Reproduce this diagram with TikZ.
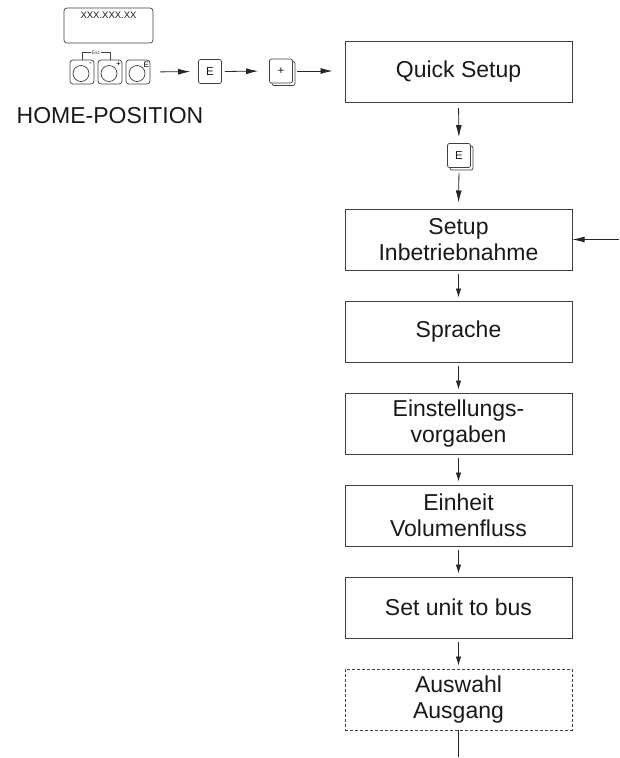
\documentclass[tikz,border=0pt]{standalone}
\usepackage{fontspec}
\setmainfont{Liberation Sans}
\usetikzlibrary{arrows.meta, positioning, shadows}

\begin{document}
\begin{tikzpicture}[x=1pt, y=-1pt,
    box/.style={draw=black!75, line width=1pt, minimum width=227pt, minimum height=61pt, inner sep=0pt, align=center, text=black!90, font=\fontsize{23}{26}\selectfont},
    optbox/.style={box, line width=0.8pt, dash pattern=on 3pt off 2pt},
    key/.style={draw=black!75, line width=0.7pt, rounded corners=2pt, fill=white, minimum width=23pt, minimum height=24pt, inner sep=0pt, text=black!90, font=\fontsize{11.5}{11.5}\selectfont},
    stackkey/.style={key, copy shadow={shadow xshift=2.5pt, shadow yshift=-2.5pt}},
    btn/.style={draw=black!75, line width=0.7pt, rounded corners=3pt, minimum size=24pt, inner sep=0pt},
    flow/.style={-{Latex[length=12pt, width=6pt]}, line width=0.8pt, black!85},
    link/.style={-{Latex[length=9pt, width=5.5pt]}, line width=0.8pt, black!85}
]
\useasboundingbox (0,0) rectangle (619,758);

% Home position: display and keys
\node[draw=black!75, line width=0.7pt, rounded corners=3pt, minimum width=89pt, minimum height=35pt] (disp) at (108.5,25.5) {};
\node[font=\fontsize{9.5}{10}\selectfont, text=black!90, anchor=north, inner sep=0pt] (val) at ([yshift=-4pt]disp.north) {XXX.XXX.XX};
\foreach \i/\s in {1/-,2/+,3/E} {
    \node[btn] (b\i) at ({82+28*(\i-1)},72) {};
    \draw[line width=0.7pt, black!75] ([xshift=-1pt, yshift=-1.5pt]b\i.center) circle (8pt);
    \node[font=\fontsize{8}{8}\selectfont, inner sep=0pt] (s\i) at ([xshift=-4pt, yshift=-5pt]b\i.north east) {\s};
}
\draw[line width=0.5pt, black!75] (b1.north) -- ++(0,-7) coordinate (e1)
    -- node[fill=white, inner sep=1pt, font=\fontsize{5}{5}\selectfont] (esc) {Esc} (e1 -| b2.north) -- (b2.north);
\node[anchor=base, text=black!90, font=\fontsize{23}{26}\selectfont] (home) at (110,123) {HOME-POSITION};

\node[key] (keyE) at (210,71.5) {E};
\node[stackkey] (keyP) at (281,71) {+};

% Main menu
\node[box] (quick) at (458.5,72) {Quick Setup};
\node[stackkey] (keyE2) at (459,155.5) {E};
\node[box] (setup) at (458.5,239.5) {Setup\\Inbetriebnahme};
\node[box, below=30pt of setup] (sprache) {Sprache};
\node[box, below=30pt of sprache] (einst) {Einstellungs-\\vorgaben};
\node[box, below=30pt of einst] (einheit) {Einheit\\Volumenfluss};
\node[box, below=30pt of einheit] (setbus) {Set unit to bus};
\node[optbox, below=30pt of setbus] (auswahl) {Auswahl\\Ausgang};
\coordinate (back) at (619,239.5);
\coordinate (out) at (458.5,757);

% Connectors
\draw[flow, shorten <=10pt, shorten >=8pt] (b3.east) -- (keyE.west);
\draw[flow, shorten <=3pt, shorten >=11pt] (keyE.east) -- (keyP.west);
\draw[flow, shorten <=4pt, shorten >=12pt] (keyP.east) -- (keyP.east -| quick.west);
\draw[flow, shorten <=5pt, shorten >=6pt] (quick.south) -- (keyE2.north);
\draw[flow, shorten <=5pt, shorten >=6pt] (keyE2.south) -- (setup.north);
\draw[flow] (back) -- (setup.east);
\foreach \a/\b in {setup/sprache, sprache/einst, einst/einheit, einheit/setbus, setbus/auswahl} {
    \draw[link, shorten <=3pt, shorten >=3pt] (\a.south) -- (\b.north);
}
\draw[line width=0.8pt, black!85] (auswahl.south) -- (out);

\end{tikzpicture}
\end{document}
